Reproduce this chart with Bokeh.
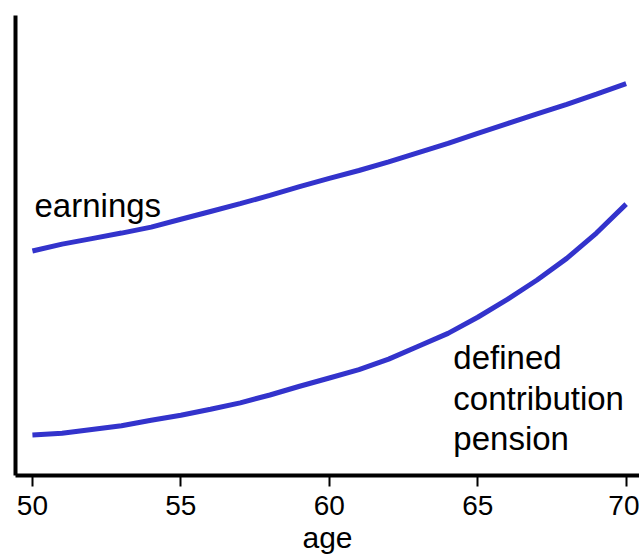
from bokeh.plotting import figure
from bokeh.models import ColumnDataSource, FixedTicker, Range1d
from bokeh.core.properties import value
from bokeh.embed import file_html
from bokeh.resources import INLINE

# ---- data ----
ages = list(range(50, 71))
earnings = [48.8, 50.3, 51.5, 52.7, 54.0, 55.7, 57.4, 59.1, 60.9, 62.8, 64.6,
            66.3, 68.2, 70.2, 72.2, 74.4, 76.5, 78.6, 80.7, 82.9, 85.2]
pension = [8.8, 9.2, 10.0, 10.8, 12.0, 13.1, 14.4, 15.8, 17.5, 19.4, 21.2,
           23.0, 25.3, 28.1, 30.9, 34.4, 38.3, 42.5, 47.2, 52.7, 59.0]
x_ticks = [50, 55, 60, 65, 70]

earn_label = ["earnings"]
earn_label_x = [50.07]
earn_label_y = [58.6]

pens_label = ["defined", "contribution", "pension"]
pens_label_x = [64.18, 64.18, 64.18]
pens_label_y = [25.6, 16.7, 8.0]

LINE = "#3333cc"
FONT = "Liberation Sans"

p = figure(width=639, height=556, output_backend="svg", toolbar_location=None,
           x_range=Range1d(49.43, 70.45), y_range=Range1d(0, 100),
           min_border_left=15, min_border_right=0, min_border_top=15,
           min_border_bottom=81)
p.outline_line_color = None
p.grid.visible = False
p.background_fill_color = "white"
p.border_fill_color = "white"

src_e = ColumnDataSource(dict(x=ages, y=earnings))
src_p = ColumnDataSource(dict(x=ages, y=pension))
p.line("x", "y", source=src_e, line_color=LINE, line_width=5)
p.line("x", "y", source=src_p, line_color=LINE, line_width=5)

p.text(x=earn_label_x, y=earn_label_y, text=earn_label,
       text_font=value(FONT), text_font_size="33px", text_color="black",
       text_baseline="alphabetic", text_align="left")
p.text(x=pens_label_x, y=pens_label_y, text=pens_label,
       text_font=value(FONT), text_font_size="33px", text_color="black",
       text_baseline="alphabetic", text_align="left")

# x axis
xa = p.xaxis[0]
xa.ticker = FixedTicker(ticks=x_ticks)
xa.minor_tick_line_color = None
xa.major_tick_in = 0
xa.major_tick_out = 11
xa.major_tick_line_width = 2
xa.major_tick_line_color = "black"
xa.axis_line_width = 4
xa.axis_line_color = "black"
xa.major_label_text_font = FONT
xa.major_label_text_font_size = "28px"
xa.major_label_text_color = "black"
xa.major_label_standoff = 9
xa.axis_label = "age"
xa.axis_label_text_font = FONT
xa.axis_label_text_font_size = "30px"
xa.axis_label_text_font_style = "normal"
xa.axis_label_text_color = "black"
xa.axis_label_standoff = 3

# y axis: plain line only
ya = p.yaxis[0]
ya.ticker = FixedTicker(ticks=[])
ya.minor_tick_line_color = None
ya.major_tick_line_color = None
ya.major_tick_in = 0
ya.major_tick_out = 0
ya.major_label_text_font_size = "0px"
ya.major_label_standoff = 0
ya.axis_line_width = 4
ya.axis_line_color = "black"

open("out.html", "w").write(file_html(p, INLINE))
